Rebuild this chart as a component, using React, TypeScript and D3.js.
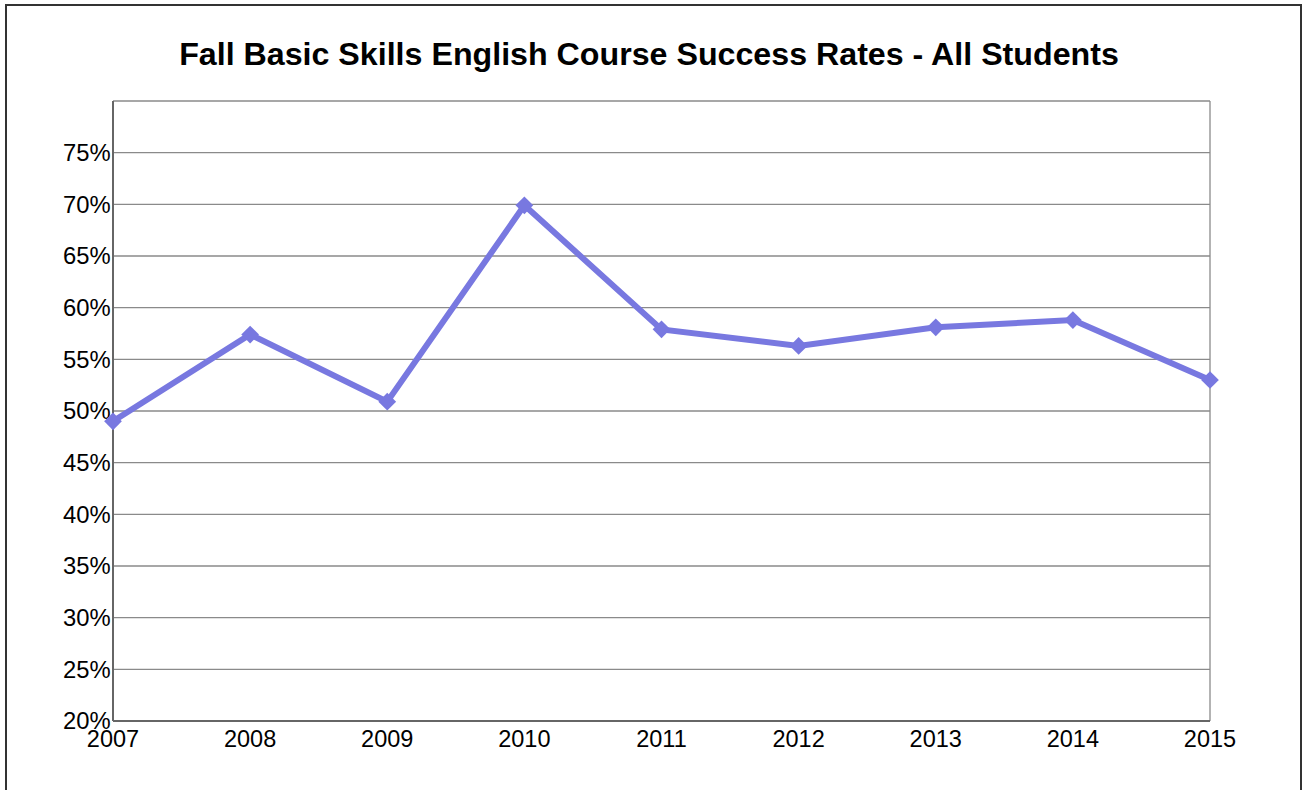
import React from "react";
import * as d3 from "d3";

const years = ["2007", "2008", "2009", "2010", "2011", "2012", "2013", "2014", "2015"];
const successRates = [49.0, 57.4, 50.9, 69.9, 57.9, 56.3, 58.1, 58.8, 53.0];
const yTicks = [20, 25, 30, 35, 40, 45, 50, 55, 60, 65, 70, 75];
const title = "Fall Basic Skills English Course Success Rates - All Students";

export default function App() {
  const W = 1304, H = 790;
  const left = 113, right = 1210, top = 101, bottom = 721;
  const x = d3.scalePoint<string>().domain(years).range([left, right]).padding(0);
  const y = d3.scaleLinear().domain([20, 80]).range([bottom, top]);
  const line = d3.line<number>().x((_, i) => x(years[i])!).y((d) => y(d));
  const diamond = d3.symbol().type(d3.symbolDiamond2).size(200)();
  const font = "'Liberation Sans', Arial, sans-serif";
  return (
    <svg width={W} height={H} style={{ position: "absolute", left: 0, top: 0 }}>
      <rect x={0} y={0} width={W} height={H} fill="#fff" />
      <rect x={6} y={5} width={1295} height={800} fill="#fff" stroke="#333" strokeWidth={2} />
      <text x={649} y={64.5} textAnchor="middle" fontFamily={font} fontWeight="bold" fontSize={32.2} fill="#000">
        {title}
      </text>
      {yTicks.concat([80]).map((t) => (
        <line key={t} x1={left} x2={right} y1={y(t)} y2={y(t)} stroke="#8a8a8a" strokeWidth={1.3} />
      ))}
      <line x1={right} x2={right} y1={top} y2={bottom} stroke="#8a8a8a" strokeWidth={1.3} />
      <line x1={left} x2={left} y1={top} y2={bottom} stroke="#666" strokeWidth={2} />
      <line x1={left} x2={right} y1={bottom} y2={bottom} stroke="#666" strokeWidth={2} />
      {yTicks.map((t) => (
        <text key={t} x={110.7} y={y(t) + 8.2} textAnchor="end" fontFamily={font} fontSize={23.8} fill="#000">
          {t}%
        </text>
      ))}
      {years.map((yr) => (
        <text key={yr} x={x(yr)!} y={747} textAnchor="middle" fontFamily={font} fontSize={23.5} fill="#000">
          {yr}
        </text>
      ))}
      <path d={line(successRates)!} fill="none" stroke="#7878E0" strokeWidth={6} strokeLinejoin="miter" />
      {successRates.map((v, i) => (
        <path key={i} d={diamond!} transform={`translate(${x(years[i])},${y(v)})`} fill="#7878E0" />
      ))}
    </svg>
  );
}
